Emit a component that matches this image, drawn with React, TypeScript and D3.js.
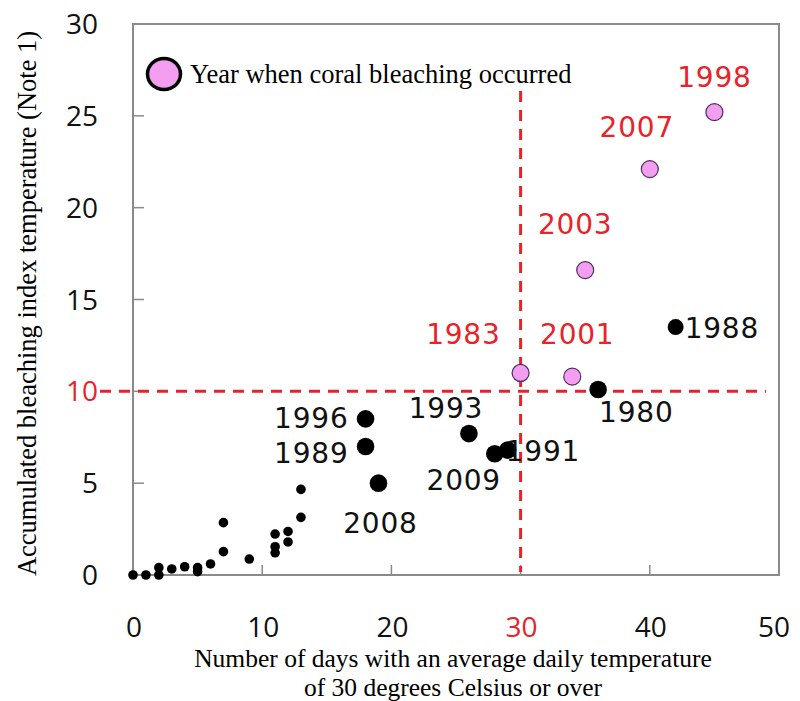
import React from "react";
import * as d3 from "d3";

// ---- data ----
const bleachYears = ["1983", "2001", "2003", "2007", "1998"];
const bleachDays = [30, 34, 35, 40, 45];
const bleachIndex = [11.0, 10.8, 16.6, 22.1, 25.2];

const namedYears = ["1996", "1989", "2008", "1993", "2009", "1991", "1980", "1988"];
const namedDays = [18, 18, 19, 26, 28, 29, 36, 42];
const namedIndex = [8.5, 7.0, 5.0, 7.7, 6.6, 6.8, 10.1, 13.5];

const otherDays = [0, 1, 2, 2, 3, 4, 5, 5, 6, 7, 7, 9, 11, 11, 11, 12, 12, 13, 13];
const otherIndex = [0, 0, 0, 0.4, 0.33, 0.45, 0.4, 0.18, 0.6, 1.27, 2.85, 0.87, 1.21, 1.54, 2.23, 1.8, 2.37, 3.14, 4.66];

const xTicks = [0, 10, 20, 30, 40, 50];
const yTicks = [0, 5, 10, 15, 20, 25, 30];
const thresholdDays = 30;
const thresholdIndex = 10;

const legendText = "Year when coral bleaching occurred";
const yTitle = "Accumulated bleaching index temperature (Note 1)";
const xTitleLines = ["Number of days with an average daily temperature", "of 30 degrees Celsius or over"];

// ---- layout (label placement, px offsets from the point) ----
const labelLayout: Record<string, { dx: number; dy: number; anchor: string }> = {
  "1998": { dx: 0, dy: -25, anchor: "middle" },
  "2007": { dx: -13, dy: -32, anchor: "middle" },
  "2003": { dx: -10, dy: -36, anchor: "middle" },
  "1983": { dx: -20, dy: -29, anchor: "end" },
  "2001": { dx: 5, dy: -33, anchor: "middle" },
  "1988": { dx: 9, dy: 11, anchor: "start" },
  "1980": { dx: 1, dy: 33, anchor: "start" },
  "1996": { dx: -17, dy: 9, anchor: "end" },
  "1989": { dx: -17, dy: 17, anchor: "end" },
  "1993": { dx: -23, dy: -16, anchor: "middle" },
  "2009": { dx: -31, dy: 36, anchor: "middle" },
  "1991": { dx: -2, dy: 11, anchor: "start" },
  "2008": { dx: 2, dy: 50, anchor: "middle" },
};

const RED = "#e8222a";
const PINK = "#f49ef2";
const FRAME = "#8a8a8a";

export default function App() {
  const x = d3.scaleLinear().domain([0, 50]).range([133, 779]);
  const y = d3.scaleLinear().domain([0, 30]).range([575, 24]);

  const labelFont = "'DejaVu Sans', sans-serif";
  const tickFont = "'Open Sans', sans-serif";
  const serif = "'Liberation Serif', 'Times New Roman', serif";

  const renderLabel = (yr: string, d: number, v: number, color: string) => {
    const L = labelLayout[yr];
    return (
      <text
        key={"l" + yr}
        x={x(d) + L.dx}
        y={y(v) + L.dy}
        textAnchor={L.anchor as any}
        fontFamily={labelFont}
        fontSize={28}
        letterSpacing={0.8}
        fill={color}
      >
        {yr}
      </text>
    );
  };

  return (
    <svg
      width={800}
      height={701}
      style={{ position: "absolute", left: 0, top: 0, background: "#fff" }}
    >
      <rect x={0} y={0} width={800} height={701} fill="#fff" />
      {/* frame */}
      <rect
        x={x(0)}
        y={y(30)}
        width={x(50) - x(0)}
        height={y(0) - y(30)}
        fill="none"
        stroke={FRAME}
        strokeWidth={2}
      />
      {/* inward ticks */}
      {yTicks.slice(1, -1).map((t) => (
        <line key={"yt" + t} x1={x(0)} x2={x(0) + 11} y1={y(t)} y2={y(t)} stroke={FRAME} strokeWidth={1.5} />
      ))}
      {xTicks.slice(1, -1).map((t) => (
        <line key={"xt" + t} x1={x(t)} x2={x(t)} y1={y(0)} y2={y(0) - 10} stroke={FRAME} strokeWidth={1.5} />
      ))}
      {/* tick labels */}
      {yTicks.map((t) => (
        <text
          key={"yl" + t}
          x={98}
          y={y(t)}
          dy="0.36em"
          textAnchor="end"
          fontFamily={tickFont}
          fontSize={28}
          fill={t === thresholdIndex ? RED : "#111"}
        >
          {t}
        </text>
      ))}
      {xTicks.map((t) => (
        <text
          key={"xl" + t}
          x={t === 50 ? x(t) - 5 : x(t) + 1}
          y={637}
          textAnchor="middle"
          fontFamily={tickFont}
          fontSize={28}
          fill={t === thresholdDays ? RED : "#111"}
        >
          {t}
        </text>
      ))}
      {/* threshold dashed lines */}
      <line
        x1={100}
        x2={766}
        y1={y(thresholdIndex)}
        y2={y(thresholdIndex)}
        stroke={RED}
        strokeWidth={3}
        strokeDasharray="11 8"
      />
      <line
        x1={x(thresholdDays)}
        x2={x(thresholdDays)}
        y1={91}
        y2={572}
        stroke={RED}
        strokeWidth={3}
        strokeDasharray="11 8"
      />
      {/* small dots */}
      {otherDays.map((d, i) => (
        <circle key={"o" + i} cx={x(d)} cy={y(otherIndex[i])} r={4.8} fill="#000" />
      ))}
      {/* named black points */}
      {namedDays.map((d, i) => (
        <circle key={"n" + i} cx={x(d)} cy={y(namedIndex[i])} r={namedYears[i] === "1988" ? 8 : 8.8} fill="#000" />
      ))}
      {/* bleaching points */}
      {bleachDays.map((d, i) => (
        <circle
          key={"b" + i}
          cx={x(d)}
          cy={y(bleachIndex[i])}
          r={8.5}
          fill={PINK}
          stroke="#4a2e5c"
          strokeWidth={1.2}
        />
      ))}
      {/* labels */}
      {namedYears.map((yr, i) => renderLabel(yr, namedDays[i], namedIndex[i], "#111"))}
      {bleachYears.map((yr, i) => renderLabel(yr, bleachDays[i], bleachIndex[i], RED))}
      {/* legend */}
      <ellipse cx={164} cy={74} rx={16.5} ry={15.5} fill={PINK} stroke="#000" strokeWidth={3.5} />
      <text x={190} y={83} fontFamily={serif} fontSize={26.5} fill="#000">
        {legendText}
      </text>
      {/* axis titles */}
      <text
        transform={`translate(36, ${(y(0) + y(30)) / 2 + 4}) rotate(-90)`}
        textAnchor="middle"
        fontFamily={serif}
        fontSize={26.5}
        fill="#000"
      >
        {yTitle}
      </text>
      <text textAnchor="middle" fontFamily={serif} fontSize={25.5} fill="#000">
        {xTitleLines.map((t, i) => (
          <tspan key={"xt" + i} x={453} y={667 + i * 28.5}>
            {t}
          </tspan>
        ))}
      </text>
    </svg>
  );
}
